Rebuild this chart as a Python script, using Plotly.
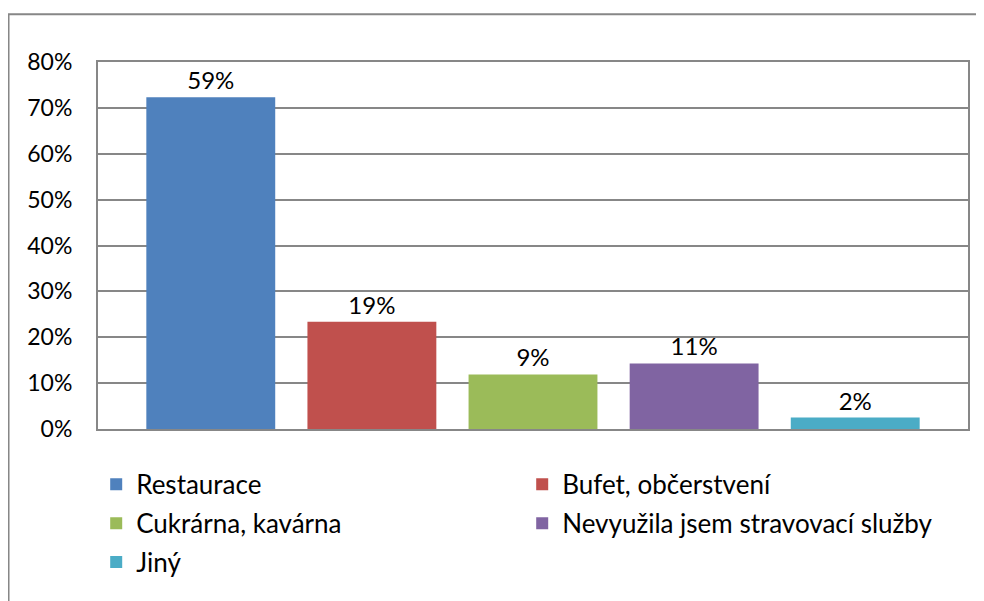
import plotly.graph_objects as go

categories = ["Restaurace", "Bufet, občerstvení", "Cukrárna, kavárna",
              "Nevyužila jsem stravovací služby", "Jiný"]
bar_values = [0.723, 0.234, 0.119, 0.143, 0.025]
label_texts = ["59%", "19%", "9%", "11%", "2%"]
colors = ["#4F81BD", "#C0504D", "#9BBB59", "#8064A2", "#4BACC6"]
legend_ids = ["legend", "legend", "legend2", "legend2", "legend3"]
y_ticks = [0, 0.1, 0.2, 0.3, 0.4, 0.5, 0.6, 0.7, 0.8]

FONT = "Lato"
GRID = "#878787"

# page body has an 8px margin; design in screen coords, convert
OFF = 8
W, H = 984 - OFF, 601 - OFF
plot_l, plot_t, plot_r, plot_b = 97.5, 61.7, 967.7, 429.5  # screen px
ml = plot_l - OFF
mt = plot_t - OFF
mr = W - (plot_r - OFF)
mb = H - (plot_b - OFF)
pw = W - ml - mr
ph = H - mt - mb


def py(p):  # screen y -> paper
    return (plot_b - p) / ph


def px(p):  # screen x -> paper
    return (p - plot_l) / pw


fig = go.Figure()
for cat, val, lab, col, lg in zip(categories, bar_values, label_texts, colors, legend_ids):
    fig.add_trace(go.Bar(
        x=[cat], y=[val], name=cat, marker_color=col, marker_line_width=0,
        text=[lab], textposition="outside", cliponaxis=False,
        textfont=dict(family=FONT, size=24, color="#000000"),
        legend=lg,
    ))

legend_common = dict(orientation="h", entrywidth=381, entrywidthmode="pixels",
                     xanchor="left", yanchor="middle", x=px(95.7),
                     font=dict(family=FONT, size=26, color="#000000"),
                     bgcolor="rgba(0,0,0,0)", borderwidth=0)

fig.update_layout(
    width=W, height=H,
    margin=dict(l=ml, r=mr, t=mt, b=mb, autoexpand=False),
    paper_bgcolor="white", plot_bgcolor="white",
    barmode="overlay", bargap=0.2,
    font=dict(family=FONT, size=23, color="#000000"),
    xaxis=dict(showticklabels=False, showgrid=False, zeroline=False,
               showline=True, mirror=True, linecolor=GRID, linewidth=2,
               categoryorder="array", categoryarray=categories,
               range=[-0.7, 4.7]),
    yaxis=dict(range=[0, 0.8], tickvals=y_ticks, tickformat=".0%",
               showgrid=True, gridcolor=GRID, gridwidth=1.5, zeroline=False,
               showline=True, mirror=True, linecolor=GRID, linewidth=2,
               ticks="", ticklabelstandoff=19,
               tickfont=dict(family=FONT, size=23, color="#000000")),
    legend=dict(**legend_common, y=py(485)),
    legend2=dict(**legend_common, y=py(524)),
    legend3=dict(**legend_common, y=py(563)),
    shapes=[dict(type="rect", xref="paper", yref="paper",
                 x0=px(8), x1=px(1000), y0=py(620), y1=py(13.8),
                 line=dict(color=GRID, width=2), fillcolor="rgba(0,0,0,0)",
                 layer="below")],
)

fig.write_html("out.html")
